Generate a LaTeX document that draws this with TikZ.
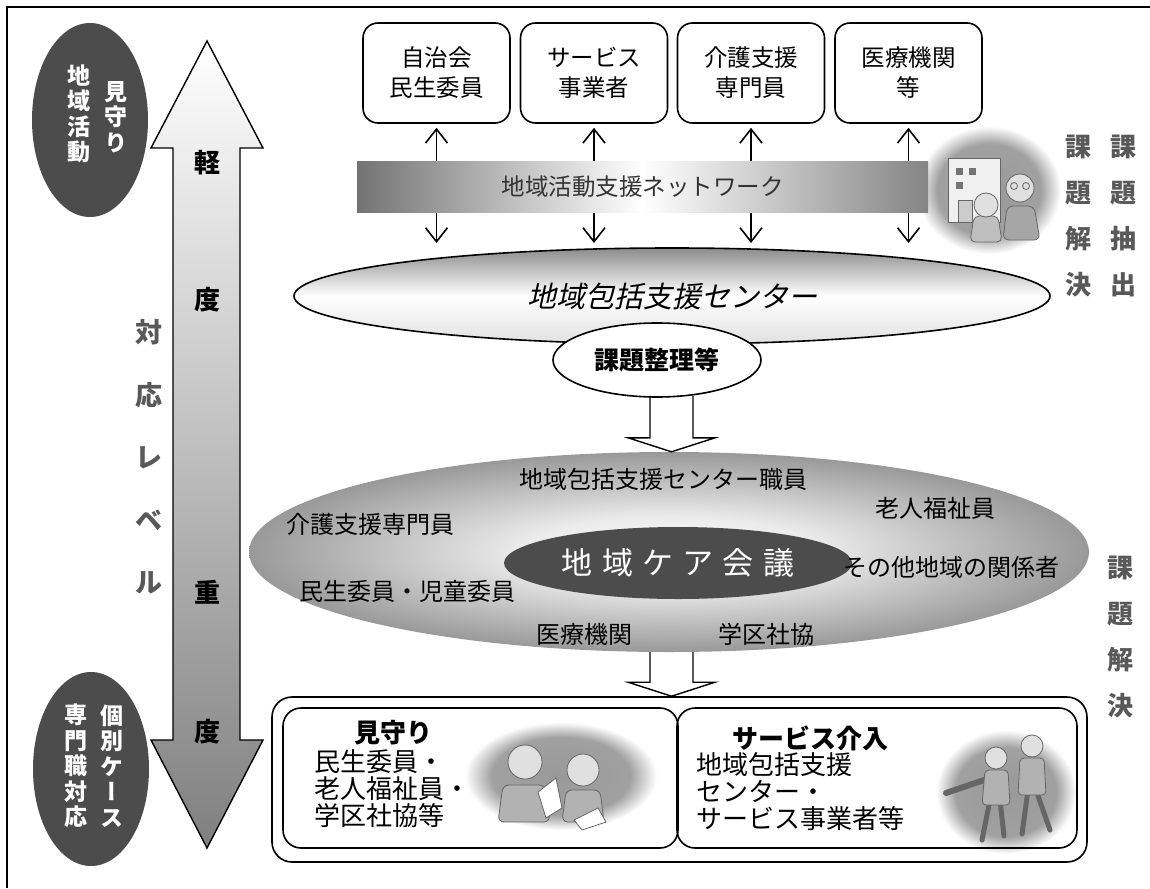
\documentclass[tikz,border=0pt]{standalone}
\usepackage{fontspec}
\setmainfont{Noto Sans CJK JP}
\newfontfamily\slantjp{Noto Sans CJK JP}[FakeSlant=0.22]
\newfontfamily\vertjp{Noto Sans CJK JP}[RawFeature=+vert]
\newfontfamily\widejp{Noto Sans CJK JP}[LetterSpace=30]
\usetikzlibrary{shapes,arrows.meta,positioning,calc}
\tikzstyle{frameline} = [line width=1.6pt]
\tikzstyle{oval} = [ellipse, inner sep=0pt]
\tikzstyle{orgbox} = [draw, line width=1.6pt, rounded corners=15pt, minimum width=147pt, minimum height=100pt, inner sep=0pt, align=center, font=\fontsize{23.5}{30}\selectfont]
\tikzstyle{vcol} = [text=white, align=center, font=\vertjp\bfseries\fontsize{23}{25.5}\selectfont]
\tikzstyle{weight} = [align=center, font=\bfseries\fontsize{26}{28}\selectfont]
\tikzstyle{greytext} = [text=black!65, align=center, font=\bfseries\fontsize{26}{46}\selectfont]
\tikzstyle{member} = [font=\fontsize{24}{26}\selectfont]
\tikzstyle{band} = [minimum width=571pt, minimum height=51pt, inner sep=0pt, left color=black!55, right color=black!48, middle color=white, text=black!80, font=\fontsize{23.5}{26}\selectfont]
\tikzstyle{twoway} = [{Straight Barb[length=14pt,width=22pt]}-{Straight Barb[length=14pt,width=22pt]}, line width=1.6pt]
\tikzstyle{sketch} = [draw=black!60, line width=0.8pt]
\tikzset{>=latex}
\pgfdeclareradialshading{haze}{\pgfpoint{0bp}{0bp}}{color(0bp)=(black!40); color(18bp)=(black!37); color(25bp)=(white); color(50bp)=(white)}
\pgfdeclareradialshading{carefade}{\pgfpoint{0bp}{0bp}}{color(0bp)=(white); color(9bp)=(white!92!black); color(25bp)=(black!40); color(50bp)=(black!40)}
% hollow block arrow pointing down from #1 to #2
\newcommand{\blockdown}[2]{%
  \draw[line width=1.4pt] ($(#1)+(-21.5,0)$) -- ($(#2)+(-21.5,-14)$) -- ($(#2)+(-43.5,-14)$) -- (#2)
    -- ($(#2)+(43.5,-14)$) -- ($(#2)+(21.5,-14)$) -- ($(#1)+(21.5,0)$);}

\begin{document}
\begin{tikzpicture}[x=1pt,y=-1pt]
  \useasboundingbox (0,0) rectangle (1150,888);
  \draw[frameline] (7,888) -- (7,7) -- (1150,7);

  % level arrow, light at the top and heavy at the bottom
  \draw[line width=1.4pt, top color=white, bottom color=black!50]
    (207,41) -- (263,148) -- (240,148) -- (240,740) -- (263,740) -- (207,848)
    -- (151,740) -- (173,740) -- (173,148) -- (151,148) -- cycle;
  \node[weight] (light1) at (207,163) {軽};
  \node[weight] (light2) at (207,300) {度};
  \node[weight] (heavy1) at (207,592) {重};
  \node[weight] (heavy2) at (207,732) {度};
  \node[greytext, font=\bfseries\fontsize{27}{62.5}\selectfont] (level) at (149,457) {対\\応\\レ\\ベ\\ル};

  \node[oval, fill=black!70, minimum width=116pt, minimum height=194pt] (watch) at (90,120) {};
  \node[vcol] (watchA) at (116,117) {見\\守\\り};
  \node[vcol] (watchB) at (79,114) {地\\域\\活\\動};
  \node[oval, fill=black!70, minimum width=116pt, minimum height=194pt] (case) at (91,769) {};
  \node[vcol] (caseA) at (112,766) {個\\別\\ケ\\ー\\ス};
  \node[vcol] (caseB) at (76,766) {専\\門\\職\\対\\応};

  % building and two people
  \shade[shading=haze] (989,190) ellipse [x radius=72pt, y radius=64pt];
  \draw[sketch, fill=black!6] (948,158) rectangle (1000,222);
  \foreach \p in {(956,168),(969,168),(956,182)}
    \fill[black!55] \p rectangle ++(7,7);
  \draw[sketch, fill=black!20] (958,200) rectangle (972,222);
  \draw[sketch, fill=black!35, rounded corners=6pt] (1003,240) -- (1007,206) -- (1034,206) -- (1040,240) -- cycle;
  \draw[sketch, fill=black!12] (1020,188) circle (14pt);
  \draw[sketch] (1014,186) circle (3.5pt) (1026,186) circle (3.5pt);
  \draw[sketch, fill=black!25, rounded corners=5pt] (970,242) -- (974,216) -- (998,216) -- (1002,242) -- cycle;
  \draw[sketch, fill=black!12] (986,205) circle (12pt);

  % members of the network
  \node[orgbox] (b1) at (436.5,73) {自治会\\民生委員};
  \node[orgbox] (b2) at (594,73) {サービス\\事業者};
  \node[orgbox] (b3) at (751,73) {介護支援\\専門員};
  \node[orgbox] (b4) at (908.5,73) {医療機関\\等};
  \coordinate (tips) at (0,243);
  \foreach \b in {b1,b2,b3,b4}
    \draw[twoway, shorten <=4pt] (\b.south) -- (\b.south |- tips);
  \node[band] (net) at (642.5,186.5) {地域活動支援ネットワーク};

  \node[oval, draw, line width=1.6pt, minimum width=756pt, minimum height=96pt, top color=black!45, bottom color=black!12, middle color=white, font=\slantjp\fontsize{29}{32}\selectfont] (hub) at (672,296) {地域包括支援センター};
  \node[oval, draw, fill=white, line width=1.6pt, minimum width=208pt, minimum height=74pt, font=\bfseries\fontsize{25}{28}\selectfont] (sort) at (657,360) {課題整理等};

  \node[greytext] (solve1) at (1078,216) {課\\題\\解\\決};
  \node[greytext] (extract) at (1123,216) {課\\題\\抽\\出};

  % care meeting
  \node[oval, shade, shading=carefade, minimum width=840pt, minimum height=200pt] (care) at (669,552) {};
  \node[oval, fill=black!70, text=white, minimum width=348pt, minimum height=72pt, font=\widejp\fontsize{31}{34}\selectfont] (meeting) at (678,563) {地域ケア会議};
  \node[member] (m1) at (663,479) {地域包括支援センター職員};
  \node[member] (m2) at (370,524) {介護支援専門員};
  \node[member] (m3) at (935,508) {老人福祉員};
  \node[member] (m4) at (407,591) {民生委員・児童委員};
  \node[member] (m5) at (951,567) {その他地域の関係者};
  \node[member] (m6) at (584,634) {医療機関};
  \node[member] (m7) at (766,634) {学区社協};
  \node[greytext] (solve2) at (1120,637) {課\\題\\解\\決};

  % two people talking
  \shade[shading=haze] (561,776) ellipse [x radius=96pt, y radius=54pt];
  \draw[sketch, fill=black!30, rounded corners=6pt] (498,822) -- (503,785) -- (545,785) -- (550,822) -- cycle;
  \draw[sketch, fill=black!12] (525,762) circle (17pt);
  \draw[sketch, fill=white] (538,792) -- (556,778) -- (562,808) -- (546,818) -- cycle;
  \draw[sketch, fill=black!30, rounded corners=6pt] (562,822) -- (566,790) -- (600,790) -- (604,822) -- cycle;
  \draw[sketch, fill=black!12] (583,770) circle (16pt);
  \draw[sketch, fill=white] (574,820) -- (598,808) -- (606,822) -- (582,830) -- cycle;

  % two people walking
  \shade[shading=haze] (1006,792) ellipse [x radius=70pt, y radius=62pt];
  \draw[black!60, line width=6pt, line cap=round] (946,793) -- (990,778);
  \draw[black!60, line width=5pt, line cap=round] (990,800) -- (982,840) (1000,800) -- (1004,836) (1028,790) -- (1022,834) (1036,790) -- (1050,830);
  \draw[sketch, fill=black!30, rounded corners=4pt] (982,805) -- (985,770) -- (1008,770) -- (1010,805) -- cycle;
  \draw[sketch, fill=black!30, rounded corners=4pt] (1018,795) -- (1020,758) -- (1044,758) -- (1046,795) -- cycle;
  \draw[sketch, fill=black!12] (996,758) circle (11pt);
  \draw[sketch, fill=black!12] (1032,746) circle (11pt);

  % results
  \node[draw, line width=1.6pt, rounded corners=20pt, minimum width=815pt, minimum height=165pt] (result) at (679.5,779.5) {};
  \node[draw, line width=1.6pt, rounded corners=18pt, minimum width=395pt, minimum height=140pt] (watchbox) at (480.5,778) {};
  \node[draw, line width=1.6pt, rounded corners=18pt, minimum width=400pt, minimum height=140pt] (servicebox) at (877,778) {};
  \node[font=\bfseries\fontsize{26}{28}\selectfont] (watchtitle) at (393,733) {見守り};
  \node[anchor=west, align=left, font=\fontsize{26}{27}\selectfont] (watchlist) at (311,789) {民生委員・\\老人福祉員・\\学区社協等};
  \node[font=\bfseries\fontsize{26}{28}\selectfont] (servicetitle) at (810,738) {サービス介入};
  \node[anchor=west, align=left, font=\fontsize{26}{27}\selectfont] (servicelist) at (693,792) {地域包括支援\\センター・\\サービス事業者等};

  \coordinate (flow) at (671.5,0);
  \blockdown{$(sort.south -| flow)+(0,-2)$}{flow |- care.north}
  \blockdown{flow |- care.south}{flow |- result.north}
\end{tikzpicture}
\end{document}
